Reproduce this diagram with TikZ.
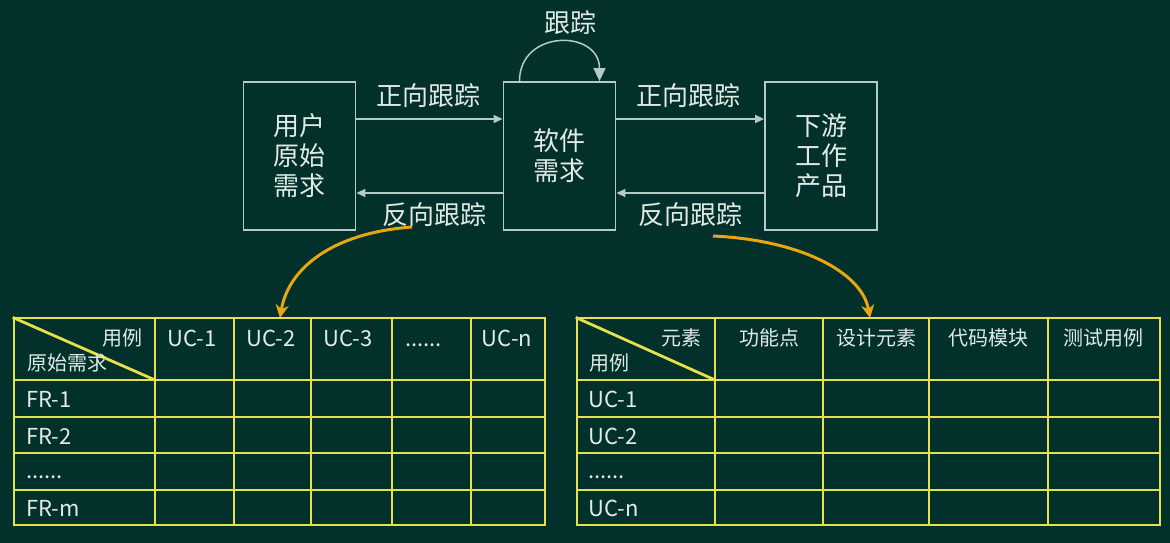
\documentclass[tikz,border=0pt]{standalone}
\usepackage{fontspec}
\setmainfont{Noto Sans CJK SC}
\usepackage{tikz}
\usetikzlibrary{arrows.meta, positioning, calc}
\definecolor{board}{HTML}{02302B}
\definecolor{chalk}{HTML}{E2EAE6}
\definecolor{frame}{HTML}{B4CCC5}
\definecolor{grid}{HTML}{E6E04A}
\definecolor{accent}{HTML}{E8A614}
\tikzset{
  req/.style={rectangle, draw=frame, line width=1.8pt, minimum width=112pt,
              minimum height=148pt, align=center, text=chalk,
              font=\fontsize{26}{30}\selectfont},
  lbl/.style={text=chalk, inner sep=0pt, font=\fontsize{26}{30}\selectfont},
  cell/.style={text=chalk, inner sep=0pt, font=\fontsize{20}{24}\selectfont},
  code/.style={cell, font=\fontsize{22}{26}\selectfont},
  trace/.style={-{Triangle[length=9pt,width=8pt]}, line width=1.5pt, frame},
  link/.style={-{Stealth[length=13pt,width=13pt,inset=4pt]}, line width=3pt, accent},
  gridline/.style={line width=2.8pt, grid, line cap=rect},
}

\begin{document}
\begin{tikzpicture}[x=1pt, y=-1pt]
  \fill[board] (0,0) rectangle (1170,543);
  \node[req] (user) at (299.5,156) {用户\\原始\\需求};
  \node[req] (srs) at (559.5,156) {软件\\需求};
  \node[req] (down) at (821,156) {下游\\工作\\产品};
  \draw[trace] ([yshift=37pt]user.east) -- ([yshift=37pt]srs.west);
  \draw[trace] ([yshift=37pt]srs.east) -- ([yshift=37pt]down.west);
  \draw[trace] ([yshift=-37pt]srs.west) -- ([yshift=-37pt]user.east);
  \draw[trace] ([yshift=-37pt]down.west) -- ([yshift=-37pt]srs.east);
  \draw[trace, -{Triangle[length=13pt,width=12pt]}] ([xshift=-40pt]srs.north)
    .. controls ([xshift=-40pt,yshift=52pt]srs.north) and ([xshift=40pt,yshift=52pt]srs.north)
    .. ([xshift=40pt]srs.north);
  \node[lbl] (fwd1) at (428,96) {正向跟踪};
  \node[lbl] (fwd2) at (688,96) {正向跟踪};
  \node[lbl] (bwd1) at (434,215) {反向跟踪};
  \node[lbl] (bwd2) at (690,215) {反向跟踪};
  \node[lbl] (self) at (570,23) {跟踪};
  \coordinate (lsrc) at (412,227);
  \coordinate (ldst) at (280,318);
  \coordinate (rsrc) at (713,236);
  \coordinate (rdst) at (870,318);
  \draw[link] (lsrc) .. controls (330,233) and (288,270) .. (ldst);
  \draw[link] (rsrc) .. controls (800,240) and (862,272) .. (rdst);
  \foreach \x in {14,155,234,311,392,471,545} \draw[gridline] (\x,318) -- (\x,525);
  \foreach \y in {318,380,417,453,490,525} \draw[gridline] (14,\y) -- (545,\y);
  \draw[gridline] (14,318) -- (155,380);
  \node[cell, anchor=base east] (lcol) at (143,345) {用例};
  \node[cell, anchor=base west] (lrow) at (27,370) {原始需求};
  \foreach \cx/\txt [count=\i] in {192/UC-1, 271/UC-2, 348/UC-3, 507/UC-n}
    \node[code, anchor=base] (luc\i) at (\cx,346) {\txt};
  \node[code, anchor=base west] (ldots) at (405,346) {......};
  \foreach \by/\txt [count=\i] in {407/FR-1, 444/FR-2, 516/FR-m}
    \node[code, anchor=base west] (fr\i) at (26,\by) {\txt};
  \node[code, anchor=base west] (frdots) at (26,478) {......};
  \foreach \x in {577,715,823,929,1048,1160} \draw[gridline] (\x,318) -- (\x,525);
  \foreach \y in {318,380,417,453,490,525} \draw[gridline] (577,\y) -- (1160,\y);
  \draw[gridline] (577,318) -- (715,380);
  \node[cell, anchor=base east] (rcol) at (702,345) {元素};
  \node[cell, anchor=base west] (rrow) at (589,370) {用例};
  \foreach \cx/\txt [count=\i] in {769/功能点, 876/设计元素, 988.5/代码模块, 1103/测试用例}
    \node[cell, anchor=base] (elem\i) at (\cx,345) {\txt};
  \foreach \by/\txt [count=\i] in {407/UC-1, 444/UC-2, 516/UC-n}
    \node[code, anchor=base west] (uc\i) at (588,\by) {\txt};
  \node[code, anchor=base west] (ucdots) at (588,478) {......};
\end{tikzpicture}
\end{document}
